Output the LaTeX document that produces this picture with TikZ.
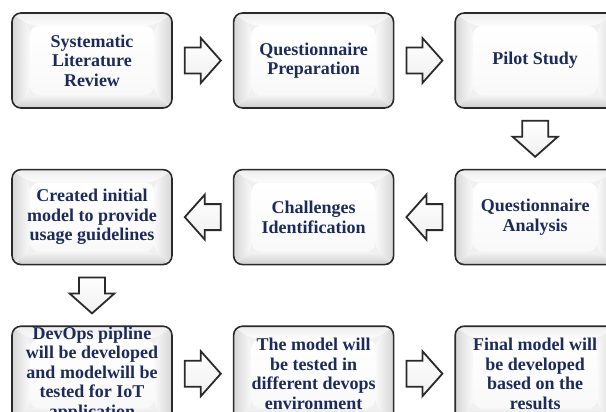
\documentclass[tikz,border=0pt]{standalone}
\usepackage{fontspec}
\setmainfont{Liberation Serif}
\usetikzlibrary{positioning,calc}

\definecolor{boxtext}{HTML}{1C2B5A}
\definecolor{boxline}{HTML}{2A2A2A}

\tikzset{
  stepbox/.style={draw=boxline, line width=1.6pt, rounded corners=9pt,
    minimum width=160pt, minimum height=95pt, inner sep=0pt,
    align=center, text=boxtext, font=\bfseries\fontsize{18}{19.5}\selectfont,
    path picture={
      \coordinate (pp-sw) at (path picture bounding box.south west);
      \coordinate (pp-ne) at (path picture bounding box.north east);
      \fill[gray!12] (pp-sw) rectangle (pp-ne);
      \shade[left color=gray!32, right color=gray!4] (pp-sw) -- ($(pp-sw)+(18,13)$)
        -- ($(pp-sw |- pp-ne)+(18,-13)$) -- (pp-sw |- pp-ne) -- cycle;
      \shade[right color=gray!32, left color=gray!4] (pp-ne |- pp-sw) -- ($(pp-ne |- pp-sw)+(-18,13)$)
        -- ($(pp-ne)+(-18,-13)$) -- (pp-ne) -- cycle;
      \shade[top color=gray!14, bottom color=gray!2] (pp-sw |- pp-ne) -- (pp-ne)
        -- ($(pp-ne)+(-18,-13)$) -- ($(pp-sw |- pp-ne)+(18,-13)$) -- cycle;
      \shade[bottom color=gray!38, top color=gray!8] (pp-sw) -- (pp-ne |- pp-sw)
        -- ($(pp-ne |- pp-sw)+(-18,13)$) -- ($(pp-sw)+(18,13)$) -- cycle;
      \shade[top color=white, bottom color=gray!5] ($(pp-sw)+(18,13)$) rectangle ($(pp-ne)+(-18,-13)$);
    }},
  arrowline/.style={draw=boxline, line width=1.8pt, miter limit=4,
    top color=white, bottom color=gray!12},
  pics/blockarrow/.style={code={
    \draw[arrowline] (-18,-13) -- (-2,-13) -- (-2,-22.5) -- (18,0)
      -- (-2,22.5) -- (-2,13) -- (-18,13) -- cycle;
  }}
}

\begin{document}
\begin{tikzpicture}[x=1pt, y=1pt, node distance=60pt and 60pt]
  \useasboundingbox (0,0) rectangle (606,-412);
  \clip (0,0) rectangle (606,-412);

  % First row
  \node[stepbox] (slr) at (92,-60.5) {Systematic\\Literature\\Review};
  \node[stepbox, right=of slr] (qprep) {Questionnaire\\Preparation};
  \node[stepbox, right=of qprep] (pilot) {Pilot Study};

  % Second row (right to left)
  \node[stepbox, below=of pilot] (qanal) {Questionnaire\\Analysis};
  \node[stepbox, left=of qanal] (chall) {Challenges\\Identification};
  \node[stepbox, left=of chall] (initmodel) {Created initial\\model  to provide\\usage guidelines};

  % Third row
  \node[stepbox, below=of initmodel] (devops) {DevOps pipline\\will be developed\\and modelwill be\\tested for IoT\\application};
  \node[stepbox, right=of devops] (tested) {The model will\\be tested in\\different devops\\environment};
  \node[stepbox, right=of tested] (final) {Final model will\\be developed\\based on the\\results};

  % Block arrows between the steps
  \pic at ($(slr.east)!0.5!(qprep.west)$) {blockarrow};
  \pic at ($(qprep.east)!0.5!(pilot.west)$) {blockarrow};
  \pic[rotate=-90] at ($(pilot.south)!0.5!(qanal.north)$) {blockarrow};
  \pic[rotate=180] at ($(qanal.west)!0.5!(chall.east)$) {blockarrow};
  \pic[rotate=180] at ($(chall.west)!0.5!(initmodel.east)$) {blockarrow};
  \pic[rotate=-90] at ($(initmodel.south)!0.5!(devops.north)$) {blockarrow};
  \pic at ($(devops.east)!0.5!(tested.west)$) {blockarrow};
  \pic at ($(tested.east)!0.5!(final.west)$) {blockarrow};
\end{tikzpicture}
\end{document}
